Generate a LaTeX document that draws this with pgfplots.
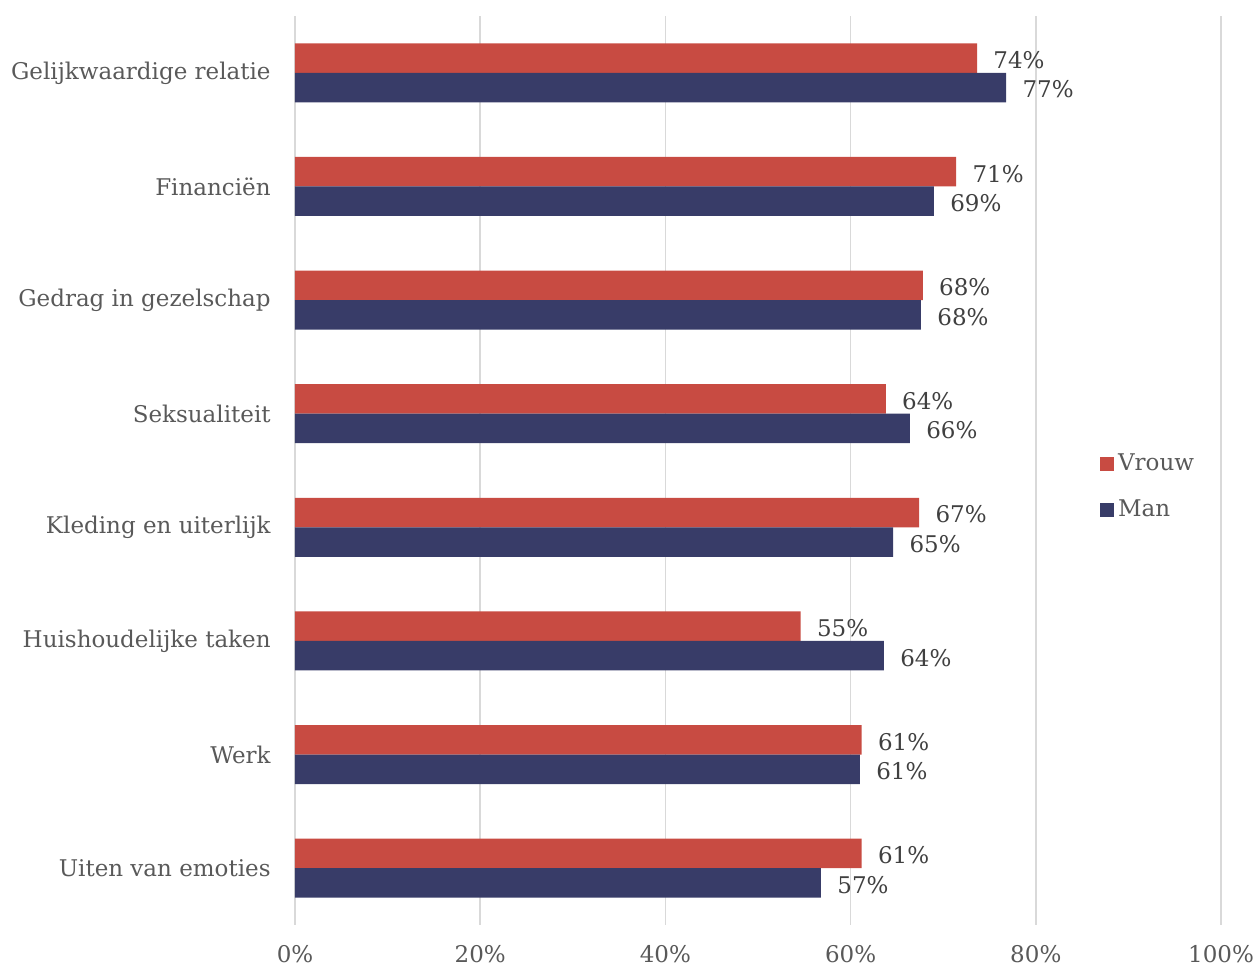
\documentclass[border=0pt]{standalone}
\usepackage{pgfplots}
\pgfplotsset{compat=1.18}
\usepackage{fontspec}
\setmainfont{DejaVu Serif}
\definecolor{vrouw}{HTML}{C84B42}
\definecolor{man}{HTML}{383C68}
\definecolor{gridc}{HTML}{D9D9D9}
\definecolor{labc}{HTML}{595959}
\definecolor{valc}{HTML}{404040}
\begin{document}
\begin{tikzpicture}
\fontsize{11.5}{13.5}\selectfont
\begin{axis}[
  at={(0,0)}, anchor=south west,
  scale only axis, width=463pt, height=454.5pt,
  xbar, bar width=0.26,
  y dir=reverse,
  xmin=0, xmax=100, ymin=-0.5, ymax=7.5,
  xtick={0,20,40,60,80,100},
  xticklabel={\pgfmathprintnumber{\tick}\%},
  /pgf/number format/assume math mode=true,
  ytick={0,...,7},
  yticklabels={Gelijkwaardige relatie,Financiën,Gedrag in gezelschap,Seksualiteit,Kleding en uiterlijk,Huishoudelijke taken,Werk,Uiten van emoties},
  major tick length=0pt,
  axis line style={draw=none},
  xmajorgrids, grid style={gridc, line width=0.8pt},
  tick label style={font=\fontsize{11.5}{13.5}\selectfont, text=labc},
  yticklabel style={inner sep=0pt, xshift=-12pt},
  xticklabel style={inner sep=0pt, yshift=-10pt},
  nodes near coords={\pgfmathprintnumber[fixed,precision=0]{\pgfplotspointmeta}\%},
  point meta=x,
  every node near coord/.append style={font=\fontsize{11.5}{13.5}\selectfont, text=valc, inner sep=0pt, xshift=8pt, yshift=-1pt, anchor=west},
  legend style={at={(0.869,0.523)}, anchor=north west, draw=none, fill=none,
    font=\fontsize{11.5}{13.5}\selectfont, text=labc, row sep=9pt, inner sep=0pt},
  legend cell align=left,
  legend image code/.code={\fill[#1] (0pt,-3.5pt) rectangle (7pt,3.5pt);},
]
\addplot[fill=vrouw, draw=none, bar shift=-0.13] coordinates {
 (73.65,0) (71.4,1) (67.8,2) (63.8,3) (67.4,4) (54.6,5) (61.2,6) (61.2,7)};
\addplot[fill=man, draw=none, bar shift=0.13] coordinates {
 (76.8,0) (69.0,1) (67.6,2) (66.4,3) (64.6,4) (63.6,5) (61.0,6) (56.8,7)};
\legend{Vrouw,Man}
\end{axis}
\pgfresetboundingbox
\path[use as bounding box] (-147.5pt,-21pt) rectangle (480.5pt,462.5pt);
\end{tikzpicture}
\end{document}
